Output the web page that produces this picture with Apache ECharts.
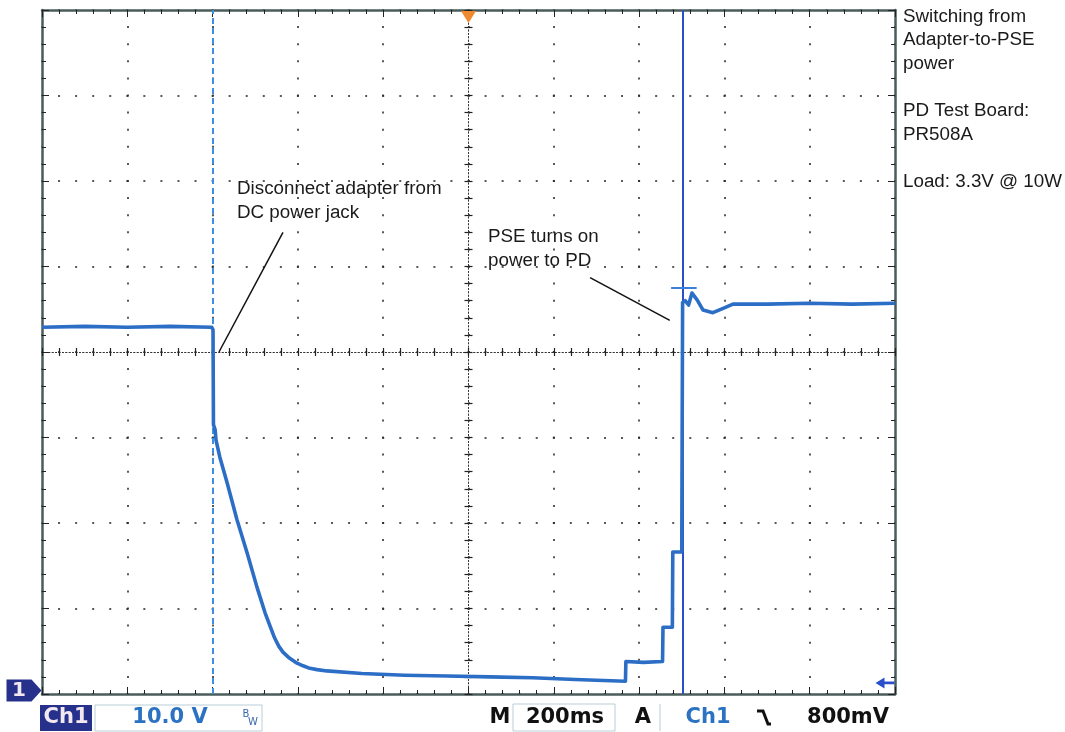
<!DOCTYPE html>
<html><head><meta charset="utf-8">
<script src="https://cdn.jsdelivr.net/npm/echarts@6/dist/echarts.min.js"></script>
<style>html,body{margin:0;padding:0;background:#fff}#c{width:1065px;height:732px}</style>
</head><body><div id="c"></div>
<script>
// Time in ms from left edge of screen (200 ms/div, 10 div); volts above bottom graticule (10 V/div)
const timeMs = [0, 100, 200, 300, 398, 401, 402, 406, 408, 417, 434, 457, 481, 504, 523, 535, 545, 555, 565, 580, 598, 612, 628, 645, 668, 750, 850, 950, 1050, 1150, 1250, 1300, 1368,
  1369, 1410, 1455, 1456, 1478, 1479, 1500, 1502, 1508, 1516, 1524, 1536, 1550, 1573, 1597, 1620, 1700, 1800, 1900, 2000];
const volts = [42.9, 43.0, 42.9, 43.0, 42.9, 42.6, 31.5, 30.9, 29.7, 27.7, 24.7, 20.4, 16.5, 12.5, 9.5, 7.9, 6.6, 5.6, 4.9, 4.2, 3.6, 3.3, 3.0, 2.85, 2.7, 2.4, 2.2, 2.1, 2.0, 1.9, 1.7, 1.6, 1.5,
  3.8, 3.7, 3.8, 7.8, 7.8, 16.6, 16.6, 45.8, 46.0, 45.5, 46.9, 46.1, 44.9, 44.6, 45.1, 45.6, 45.6, 45.7, 45.6, 45.7];
const cursorTimes = [401, 1503];
const triggerTime = 1000;
const triggerLevel = 1.3;
const groundLevel = 0.4;
const noteLeaders = [[[565, 54.0], [415, 40.0]], [[1285, 48.7], [1472, 43.7]]];
const sideNotes = ['Switching from', 'Adapter-to-PSE', 'power', '', 'PD Test Board:', 'PR508A', '', 'Load: 3.3V @ 10W'];
const note1 = ['Disconnect adapter from', 'DC power jack'];
const note2 = ['PSE turns on', 'power to PD'];

const chart = echarts.init(document.getElementById('c'));
const border = '#4a5c5c';
const dotX = [2, 15.06], dotY = [2, 15.1];
function frameAxis(pos, extra) {
  return Object.assign({
    type: 'value', position: pos,
    axisLine: {show: true, onZero: false, lineStyle: {color: border, width: 2.5}},
    axisTick: {show: true, inside: true, length: 7, lineStyle: {color: '#222', width: 1}},
    minorTick: {show: true, splitNumber: 5, length: 4, lineStyle: {color: '#222', width: 1}},
    axisLabel: {show: false}, splitLine: {show: false}
  }, extra);
}
function centerAxis(pos, inside, offset, extra) {
  return Object.assign({
    type: 'value', position: pos, offset: offset,
    axisLine: {show: true, onZero: false, lineStyle: {color: '#333', width: 1, type: [1, 2.4]}},
    axisTick: {show: true, inside: inside, length: 4, lineStyle: {color: '#222', width: 1.2}},
    minorTick: {show: true, splitNumber: 5, length: 4, lineStyle: {color: '#222', width: 1.2}},
    axisLabel: {show: false}, splitLine: {show: false}
  }, extra);
}
const xr = {min: 0, max: 2000, interval: 200};
const yr = {min: 0, max: 80, interval: 10};
const txt = (x, y, s, st) => ({type: 'text', left: x, top: y, style: Object.assign({text: s, fill: '#1a1a1a', font: '18.8px "Liberation Sans", Arial, sans-serif', textVerticalAlign: 'middle'}, st || {})});
const graphics = [];
sideNotes.forEach((s, i) => { if (s) graphics.push(txt(903, 7 + i * 23.6, s)); });
note1.forEach((s, i) => graphics.push(txt(237, 179 + i * 24, s)));
note2.forEach((s, i) => graphics.push(txt(488, 227 + i * 24, s)));
const sbFont = 'bold 21px "DejaVu Sans", sans-serif';
graphics.push(
  {type: 'rect', shape: {x: 40, y: 705, width: 52, height: 26}, style: {fill: '#26318c'}},
  {type: 'text', x: 66, y: 718, style: {text: 'Ch1', fill: '#f4e8f0', font: sbFont, align: 'center', verticalAlign: 'middle'}},
  {type: 'rect', shape: {x: 95, y: 705, width: 167, height: 26}, style: {fill: 'none', stroke: '#b8cfd8', lineWidth: 1}},
  {type: 'text', x: 170, y: 718, style: {text: '10.0 V', fill: '#2b72c2', font: sbFont, align: 'center', verticalAlign: 'middle'}},
  {type: 'text', x: 246, y: 714, style: {text: 'B', fill: '#3a6aa8', font: '10px "DejaVu Sans", sans-serif', align: 'center', verticalAlign: 'middle'}},
  {type: 'text', x: 253, y: 722, style: {text: 'W', fill: '#3a6aa8', font: '10px "DejaVu Sans", sans-serif', align: 'center', verticalAlign: 'middle'}},
  {type: 'text', x: 500, y: 718, style: {text: 'M', fill: '#111', font: sbFont, align: 'center', verticalAlign: 'middle'}},
  {type: 'rect', shape: {x: 513, y: 704, width: 102, height: 27}, style: {fill: 'none', stroke: '#b8cfd8', lineWidth: 1}},
  {type: 'text', x: 565, y: 718, style: {text: '200ms', fill: '#111', font: sbFont, align: 'center', verticalAlign: 'middle'}},
  {type: 'text', x: 643, y: 718, style: {text: 'A', fill: '#111', font: sbFont, align: 'center', verticalAlign: 'middle'}},
  {type: 'line', shape: {x1: 660, y1: 704, x2: 660, y2: 731}, style: {stroke: '#b8cfd8', lineWidth: 1}},
  {type: 'text', x: 708, y: 718, style: {text: 'Ch1', fill: '#2b72c2', font: sbFont, align: 'center', verticalAlign: 'middle'}},
  {type: 'polyline', shape: {points: [[757, 711], [763, 711], [768, 724], [771, 724]]}, style: {stroke: '#111', lineWidth: 3, fill: 'none'}},
  {type: 'text', x: 848, y: 718, style: {text: '800mV', fill: '#111', font: sbFont, align: 'center', verticalAlign: 'middle'}}
);

chart.setOption({
  animation: false,
  backgroundColor: '#fff',
  grid: {left: 42, right: 170, top: 10, bottom: 38, containLabel: false},
  xAxis: [
    frameAxis('bottom', Object.assign({splitLine: {show: true, lineStyle: {color: '#222', width: 1.5, type: dotY, dashOffset: 1}}}, xr)),
    frameAxis('top', xr),
    centerAxis('bottom', true, -342, xr),
    centerAxis('bottom', false, -342, xr)
  ],
  yAxis: [
    frameAxis('left', Object.assign({splitLine: {show: true, lineStyle: {color: '#222', width: 1.5, type: dotX, dashOffset: 1}}}, yr)),
    frameAxis('right', yr),
    centerAxis('left', true, -426.5, yr),
    centerAxis('left', false, -426.5, yr)
  ],
  graphic: graphics,
  series: [
    {
      type: 'line', xAxisIndex: 0, yAxisIndex: 0, showSymbol: false, clip: false, z: 5,
      data: timeMs.map((t, i) => [t, volts[i]]),
      lineStyle: {color: '#2c6ec6', width: 3.6, join: 'round'},
      markLine: {
        silent: true, symbol: 'none', label: {show: false}, animation: false,
        data: [
          {xAxis: cursorTimes[0], lineStyle: {color: '#3d8fe0', width: 2, type: [6, 4]}},
          {xAxis: cursorTimes[1], lineStyle: {color: '#2a4fc8', width: 2, type: 'solid'}},
          [{coord: [1475, 47.5], lineStyle: {color: '#3d7fd8', width: 2, type: 'solid'}}, {coord: [1535, 47.5]}]
        ]
      },
      markPoint: {
        silent: true, animation: false,
        data: [
          {coord: [triggerTime, 80], symbol: 'triangle', symbolRotate: 180, symbolSize: [15, 12], symbolOffset: [0, 7], itemStyle: {color: '#f08a30'}, label: {show: false}},
          {coord: [2000, triggerLevel], symbol: 'path://M0,5 L9,0 L9,3.8 L19,3.8 L19,6.2 L9,6.2 L9,10 Z', symbolSize: [19, 11], symbolOffset: [-10, 0], itemStyle: {color: '#2a4fc8'}, label: {show: false}},
          {coord: [0, groundLevel], symbol: 'path://M0,0 L25,0 L35,11 L25,22 L0,22 Z', symbolSize: [35, 22], symbolOffset: [-18, 0], itemStyle: {color: '#26318c'},
           label: {show: true, formatter: '1', color: '#f4e8f0', fontSize: 20, fontWeight: 'bold', fontFamily: 'DejaVu Sans', offset: [-5, 0]}}
        ]
      }
    },
    {
      type: 'line', xAxisIndex: 0, yAxisIndex: 0, data: [], z: 6,
      markLine: {
        silent: true, symbol: 'none', label: {show: false}, animation: false,
        lineStyle: {color: '#111', width: 1.5, type: 'solid'},
        data: noteLeaders.map(p => [{coord: p[0]}, {coord: p[1]}])
      }
    }
  ]
});
</script></body></html>
